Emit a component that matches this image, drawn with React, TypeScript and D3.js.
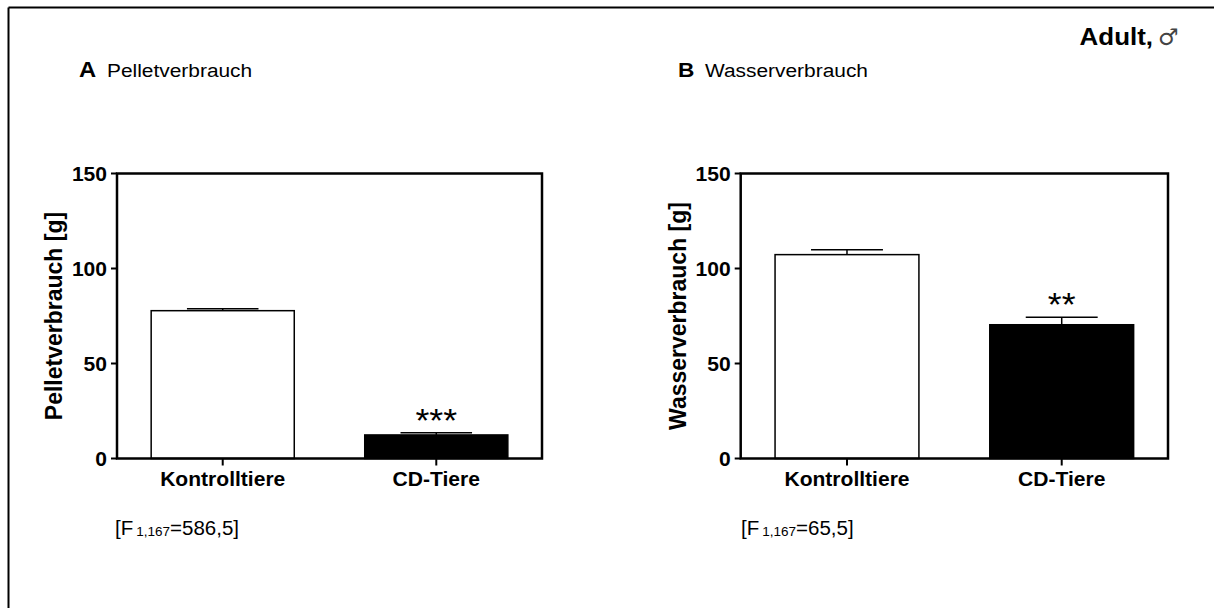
import React from 'react';
import * as d3 from 'd3';

const categories = ['Kontrolltiere', 'CD-Tiere'];
const pelletMean = [77.8, 12.4];
const pelletSem = [1.0, 1.2];
const wasserMean = [107.3, 70.4];
const wasserSem = [2.6, 3.9];
const pelletSig = ['', '***'];
const wasserSig = ['', '**'];
const yTicks = [0, 50, 100, 150];
const barFills = ['#ffffff', '#000000'];

const FONT = '"Liberation Sans", Arial, Helvetica, sans-serif';
const SX = 1.08;

function T({ x, y, size, bold, anchor, children, sx = SX }: any) {
  return (
    <text
      transform={`translate(${x},${y}) scale(${sx},1)`}
      fontFamily={FONT}
      fontSize={size}
      fontWeight={bold ? 'bold' : 'normal'}
      textAnchor={anchor || 'start'}
      fill="#000"
    >
      {children}
    </text>
  );
}

function Panel({ x0, x1, yTop, yBot, means, sems, sigs, yLabel }: any) {
  const y = d3.scaleLinear().domain([0, 150]).range([yBot, yTop]);
  const x = d3.scaleBand().domain(categories).range([x0, x1]).paddingInner(0.33).paddingOuter(0.16);
  const bw = x.bandwidth();
  return (
    <g>
      {categories.map((c, i) => {
        const bx = x(c)!;
        const cx = bx + bw / 2;
        const top = y(means[i]);
        const et = y(means[i] + sems[i]);
        return (
          <g key={c}>
            <line x1={cx} x2={cx} y1={top} y2={et} stroke="#000" strokeWidth={1.5} />
            <line x1={cx - bw / 4} x2={cx + bw / 4} y1={et} y2={et} stroke="#000" strokeWidth={1.5} />
            <rect x={bx} y={top} width={bw} height={yBot - top} fill={barFills[i]} stroke="#000" strokeWidth={1.5} />
            {sigs[i] && (
              <T x={cx} y={et - 1} size={34} anchor="middle" sx={1.05}>
                {sigs[i]}
              </T>
            )}
            <line x1={cx} x2={cx} y1={yBot} y2={yBot + 7} stroke="#000" strokeWidth={2} />
            <T x={cx} y={486} size={19.5} bold anchor="middle">
              {c}
            </T>
          </g>
        );
      })}
      <rect x={x0} y={yTop} width={x1 - x0} height={yBot - yTop} fill="none" stroke="#000" strokeWidth={2.5} />
      {yTicks.map((t) => (
        <g key={t}>
          <line x1={x0 - 6} x2={x0} y1={y(t)} y2={y(t)} stroke="#000" strokeWidth={2} />
          <T x={x0 - 10} y={y(t) + 7} size={19.5} bold anchor="end">
            {t}
          </T>
        </g>
      ))}
      <text
        transform={`translate(${x0 - 55},${(yTop + yBot) / 2}) rotate(-90) scale(1,1.05)`}
        fontFamily={FONT}
        fontSize={23}
        fontWeight="bold"
        textAnchor="middle"
        fill="#000"
      >
        {yLabel}
      </text>
    </g>
  );
}

function FStat({ x, y, val }: any) {
  return (
    <text x={x} y={y} fontFamily={FONT} fontSize={20.5} fill="#000">
      [F
      <tspan fontSize={13.5} dx={3} dy={1}>1,167</tspan>
      <tspan dy={-1}>={val}]</tspan>
    </text>
  );
}

export default function App() {
  return (
    <svg width={1214} height={608} style={{ position: 'absolute', left: 0, top: 0, background: '#fff' }}>
      <rect x={0} y={0} width={1214} height={608} fill="#fff" />
      <line x1={8.5} x2={1214} y1={7.5} y2={7.5} stroke="#000" strokeWidth={2} />
      <line x1={8.5} x2={8.5} y1={7.5} y2={608} stroke="#000" strokeWidth={2} />
      <T x={1153} y={45} size={24} bold anchor="end" sx={1.08}>
        Adult,
      </T>
      <text x={1158} y={45} fontFamily='"DejaVu Sans", sans-serif' fontSize={23} fill="#444">♂</text>
      <T x={79} y={77} size={22} bold>A</T>
      <T x={107} y={77} size={19} sx={1.1}>Pelletverbrauch</T>
      <T x={678} y={77} size={21} bold>B</T>
      <T x={705} y={77} size={19} sx={1.1}>Wasserverbrauch</T>
      <Panel x0={117} x1={542} yTop={173.5} yBot={458.5} means={pelletMean} sems={pelletSem} sigs={pelletSig} yLabel="Pelletverbrauch [g]" />
      <Panel x0={740.7} x1={1168} yTop={173.5} yBot={458.5} means={wasserMean} sems={wasserSem} sigs={wasserSig} yLabel="Wasserverbrauch [g]" />
      <FStat x={115} y={535} val="586,5" />
      <FStat x={741} y={535} val="65,5" />
    </svg>
  );
}
